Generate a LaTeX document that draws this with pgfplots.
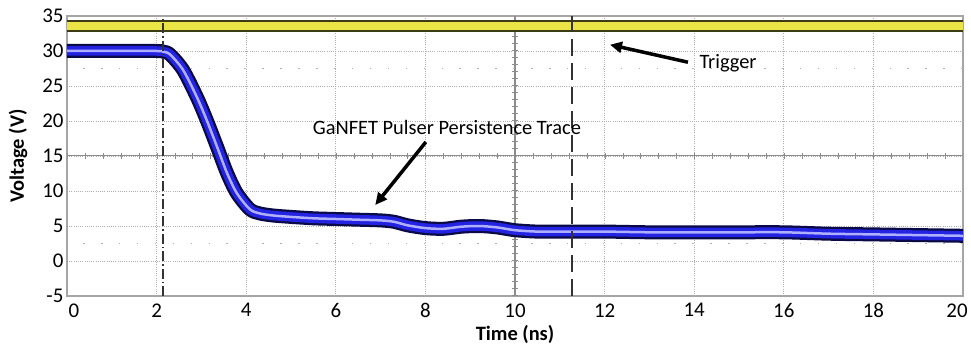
\documentclass[border=0pt]{standalone}
\usepackage{fontspec}
\setmainfont{Carlito}
\usepackage{pgfplots}
\usepackage{pgfplotstable}
\pgfplotsset{compat=1.18}
\usetikzlibrary{arrows.meta}
\definecolor{gridc}{RGB}{175,175,175}
\definecolor{framec}{RGB}{165,165,165}
\definecolor{navy}{RGB}{10,10,70}
\definecolor{tblue}{RGB}{35,35,225}
\definecolor{tlight}{RGB}{175,175,255}
\definecolor{tyel}{RGB}{235,228,70}
\definecolor{tyedge}{RGB}{60,60,20}
\pgfplotstableread{
t v
0 30.0
1 30.0
2.0 30.0
2.15 29.9
2.3 29.5
2.59 27.3
2.9 23.4
3.12 20.1
3.35 16.3
3.57 12.6
3.79 9.7
4.08 7.4
4.3 6.8
4.6 6.5
5.0 6.3
5.5 6.1
6.0 6.0
6.5 5.9
7.0 5.8
7.3 5.6
7.6 5.1
8.0 4.7
8.4 4.6
8.8 4.9
9.2 5.0
9.6 4.8
10.0 4.4
10.5 4.2
11.0 4.2
12.0 4.2
13.0 4.1
14.0 4.1
15.0 4.1
16.0 4.1
17.0 3.9
18.0 3.8
19.0 3.7
20.0 3.6
}\pulse
\pgfplotstableread{
t v
0 33.6
20 33.6
}\trig
\begin{document}
\begin{tikzpicture}
\begin{axis}[
 at={(0,0)}, anchor=south west,
 scale only axis, width=896bp, height=280bp,
 xmin=0,xmax=20,ymin=-5,ymax=35,
 xtick={0,2,...,20}, ytick={-5,0,...,35},
 xticklabels={\hspace{14bp}0,2,4,6,8,10,12,14,16,18,{20\hspace*{12bp}\mbox{}}},
 major tick length=0pt,
 grid=major,
 major grid style={gridc, line width=0.8bp, dash pattern=on 0.9bp off 1.3bp},
 axis line style={framec, line width=1.5bp},
 tick label style={font=\fontsize{21}{22}\selectfont, black},
 x tick label style={yshift=-4bp},
 /pgf/number format/assume math mode=true,
 xlabel={Time (ns)}, ylabel={Voltage (V)},
 label style={font=\fontsize{20.5}{22}\selectfont\bfseries},
 xlabel style={at={(axis description cs:0.5,-0.139)},anchor=center},
 ylabel style={at={(axis description cs:-0.0547,0.5)},anchor=center},
 clip=true,
]
% scope graticule
\draw[gridc!80!black, line width=1bp] (axis cs:0,15)--(axis cs:20,15);
\draw[gridc!80!black, line width=6bp, dash pattern=on 1bp off 16.92bp] (axis cs:0,15)--(axis cs:20,15);
\draw[gridc!80!black, line width=1.2bp] (axis cs:10,-5)--(axis cs:10,35);
\draw[gridc!80!black, line width=6bp, dash pattern=on 1bp off 6bp] (axis cs:10,-5)--(axis cs:10,35);
\draw[gridc, line width=1.5bp, dash pattern=on 1.5bp off 16.42bp] (axis cs:0.36,27.5)--(axis cs:20,27.5);
\draw[gridc, line width=1.5bp, dash pattern=on 1.5bp off 16.42bp] (axis cs:0.36,2.5)--(axis cs:20,2.5);
% trigger trace
\addplot[tyedge, line width=12bp] table {\trig};
\addplot[tyel, line width=8.5bp] table {\trig};
% pulser persistence trace
\addplot[navy, line width=14bp, smooth, tension=0.5] table {\pulse};
\addplot[tblue, line width=9.5bp, smooth, tension=0.5] table {\pulse};
\addplot[tlight, line width=2.5bp, smooth, tension=0.5] table {\pulse};
% markers
\draw[black!80, line width=1.3bp, dash pattern=on 10bp off 3bp on 1.5bp off 3bp] (axis cs:2.14,-5)--(axis cs:2.14,35);
\draw[black!80, line width=1.3bp, dash pattern=on 17bp off 7bp] (axis cs:11.27,-5)--(axis cs:11.27,35);
% annotations
\node[font=\fontsize{20.5}{22}\selectfont] at (axis cs:8.48,19.1) {GaNFET Pulser Persistence Trace};
\draw[-{Triangle[length=12bp,width=11bp]}, line width=3.5bp] (axis cs:8.01,17.0) -- (axis cs:6.88,8.0);
\node[font=\fontsize{20.5}{22}\selectfont, anchor=west] at (axis cs:14.04,28.3) {Trigger};
\draw[-{Triangle[length=12bp,width=11bp]}, line width=3.5bp] (axis cs:13.86,28.4) -- (axis cs:12.12,30.9);
\end{axis}
\pgfresetboundingbox
\useasboundingbox (-67bp,-52bp) rectangle (904bp,296bp);
\end{tikzpicture}
\end{document}
